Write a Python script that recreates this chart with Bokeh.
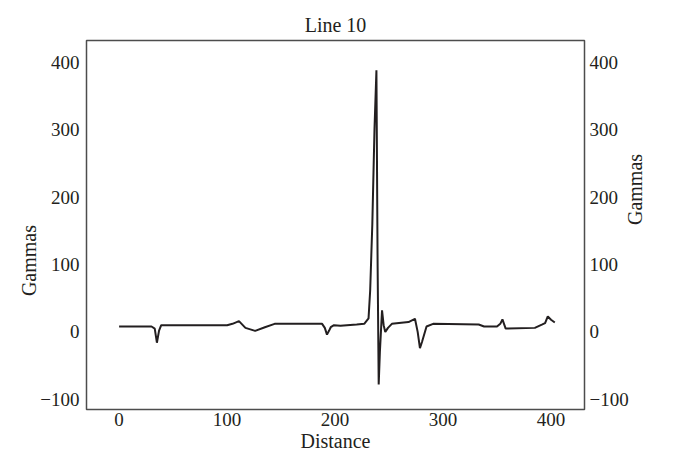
import math
from bokeh.plotting import figure
from bokeh.models import LinearAxis, Range1d, FixedTicker
from bokeh.embed import file_html
from bokeh.resources import INLINE

# Data
distance = [0, 30, 33, 35, 37, 39, 45, 100, 105, 111, 117, 126, 135, 144, 160,
            188, 190.5, 192.5, 194.5, 196, 199, 205, 220, 227, 231, 232.5, 234.5,
            236.5, 238.3, 239.4, 240.4, 241.5, 243.5, 245, 246.5, 249, 252.6, 268,
            274, 276.5, 278.6, 280.5, 284.7, 290.8, 333, 338, 350, 353, 355, 358,
            385, 391.5, 394.5, 397, 400, 403.5]
gammas = [8, 8, 5, -16, 2, 10, 10, 10, 12, 16, 6, 1.5, 7, 12, 12,
          12, 6, -4, 2, 7, 10, 9, 11, 12, 20, 61, 160,
          300, 388, 100, -78, -30, 32, 10, 0, 6, 12, 14.6,
          19.5, 0, -24, -15, 8, 12, 11, 8, 8, 12, 18.6, 5,
          6, 10.7, 13, 23, 18, 14]

x_ticks = [0, 100, 200, 300, 400]
y_ticks = [-100, 0, 100, 200, 300, 400]
y_tick_labels = {-100: "\u2212100", 0: "0", 100: "100", 200: "200", 300: "300", 400: "400"}

FONT = "Liberation Serif"
TXT = "#231f20"

p = figure(width=659, height=455, output_backend="svg", toolbar_location=None,
           x_range=Range1d(-30.2, 431), y_range=Range1d(-115, 432),
           title="Line 10", x_axis_label="Distance", y_axis_label="Gammas",
           min_border_left=86, min_border_right=71, min_border_top=40,
           min_border_bottom=46)

p.line(distance, gammas, line_color="#231f20", line_width=2)

right_axis = LinearAxis(ticker=FixedTicker(ticks=y_ticks), axis_label="Gammas")
p.add_layout(right_axis, "right")

p.xgrid.visible = False
p.ygrid.visible = False
p.outline_line_color = "#4d4d4d"
p.outline_line_width = 1.5

for ax in p.axis:
    ax.axis_line_color = None
    ax.major_tick_line_color = None
    ax.minor_tick_line_color = None
    ax.major_tick_out = 0
    ax.major_tick_in = 0
    ax.minor_tick_out = 0
    ax.minor_tick_in = 0
    ax.major_label_text_font = FONT
    ax.major_label_text_font_size = "19px"
    ax.major_label_text_color = TXT
    ax.axis_label_text_font = FONT
    ax.axis_label_text_font_size = "20px"
    ax.axis_label_text_font_style = "normal"
    ax.axis_label_text_color = TXT

for ax in p.xaxis:
    ax.ticker = FixedTicker(ticks=x_ticks)
    ax.major_label_standoff = 3
    ax.axis_label_standoff = 1
for ax in p.yaxis:
    ax.major_label_overrides = y_tick_labels
    ax.axis_label_orientation = math.pi / 2
p.yaxis[0].ticker = FixedTicker(ticks=y_ticks)
p.yaxis[0].major_label_standoff = 7
p.yaxis[0].axis_label_standoff = 8
right_axis.major_label_standoff = 5
right_axis.axis_label_standoff = 3

p.title.align = "center"
p.title.text_font = FONT
p.title.text_font_size = "20px"
p.title.text_font_style = "normal"
p.title.text_color = TXT

open("out.html", "w").write(file_html(p, INLINE))
